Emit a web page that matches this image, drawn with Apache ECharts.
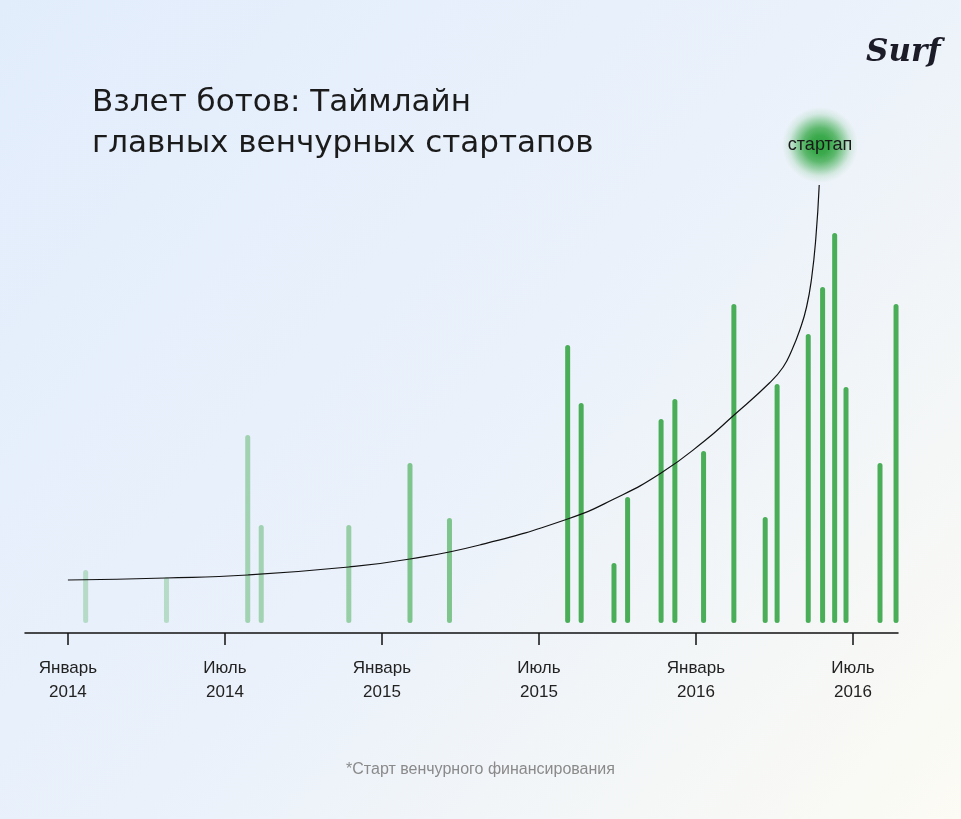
<!DOCTYPE html>
<html>
<head>
<meta charset="utf-8">
<script src="https://cdn.jsdelivr.net/npm/echarts@6/dist/echarts.min.js"></script>
<style>
  html, body { margin: 0; padding: 0; }
  #chart { width: 961px; height: 819px; }
</style>
</head>
<body>
<div id="chart"></div>
<script>
// Startup funding start dates and relative bar heights
const startDates = [
  '2014-01-22', '2014-04-24', '2014-07-28', '2014-08-13', '2014-11-23',
  '2015-02-03', '2015-03-19', '2015-08-04', '2015-08-20', '2015-09-27',
  '2015-10-13', '2015-11-21', '2015-12-07', '2016-01-10', '2016-02-14',
  '2016-03-21', '2016-04-04', '2016-05-10', '2016-05-27', '2016-06-10',
  '2016-06-23', '2016-08-02', '2016-08-21'
];
const barValues = [
  53, 46, 188, 98, 98,
  160, 105, 278, 220, 60,
  126, 204, 224, 172, 319,
  106, 239, 289, 336, 390,
  236, 160, 319
];

// Growth curve
const curveDates = [
  '2014-01-01', '2014-04-23', '2014-07-28', '2014-11-23', '2015-02-03',
  '2015-04-23', '2015-08-04', '2015-09-27', '2015-11-21', '2016-01-11',
  '2016-02-13', '2016-03-26', '2016-04-11', '2016-04-21',
  '2016-04-30', '2016-05-08', '2016-05-14', '2016-05-19', '2016-05-23'
];
const curveValues = [
  43, 45, 48, 56, 64,
  78, 104, 124, 150, 182,
  207, 240, 256, 273,
  293, 316, 345, 385, 438
];

// Axis ticks
const tickDates = ['2014-01-01', '2014-07-01', '2015-01-01', '2015-07-01', '2016-01-01', '2016-07-01'];
const tickLabels = ['Январь\n2014', 'Июль\n2014', 'Январь\n2015', 'Июль\n2015', 'Январь\n2016', 'Июль\n2016'];

const markerDate = '2016-05-24';
const markerValue = 478;
const markerLabel = 'стартап';

const titleText = 'Взлет ботов: Таймлайн\nглавных венчурных стартапов';
const footnoteText = '*Старт венчурного финансирования';

function toMonth(d) {
  const [y, m, dd] = d.split('-').map(Number);
  const dim = new Date(y, m, 0).getDate();
  return (y - 2014) * 12 + (m - 1) + (dd - 1) / dim;
}

const tickVals = tickDates.map(toMonth);
const FONT = '"Liberation Sans", Arial, sans-serif';
const TITLE_FONT = '"DejaVu Sans", "Liberation Sans", sans-serif';

const chart = echarts.init(document.getElementById('chart'), null, { renderer: 'canvas' });

chart.setOption({
  animation: false,
  backgroundColor: {
    type: 'linear', x: 0, y: 0, x2: 1, y2: 1,
    colorStops: [
      { offset: 0, color: '#e2edfc' },
      { offset: 0.5, color: '#eaf1fb' },
      { offset: 1, color: '#fcfbf4' }
    ]
  },
  textStyle: { fontFamily: FONT },
  title: [
    {
      text: titleText,
      left: 87, top: 77,
      textStyle: { fontSize: 31, lineHeight: 41, fontWeight: 400, color: '#1b1b1b', fontFamily: TITLE_FONT }
    },
    {
      text: footnoteText,
      left: 'center', top: 757,
      textStyle: { fontSize: 16, fontWeight: 400, color: '#8a8a8a', fontFamily: FONT }
    },
    {
      text: 'Surf',
      left: 861, top: 32,
      textStyle: { fontSize: 31, fontWeight: 'bold', fontStyle: 'italic', color: '#1c1c28', fontFamily: 'DejaVu Serif' }
    }
  ],
  grid: { left: 25, right: 63, top: 123, bottom: 186 },
  xAxis: {
    type: 'value',
    min: -1.64,
    max: 31.72,
    splitLine: { show: false },
    axisLine: { show: true, onZero: false, lineStyle: { color: '#111', width: 1.5 } },
    axisTick: { show: true, customValues: tickVals, length: 12, lineStyle: { color: '#111', width: 1.5 } },
    axisLabel: {
      customValues: tickVals,
      margin: 23,
      fontSize: 17,
      lineHeight: 24,
      color: '#222',
      fontFamily: FONT,
      formatter: function (v) {
        let best = 0, bd = Infinity;
        tickVals.forEach((t, i) => { const d = Math.abs(t - v); if (d < bd) { bd = d; best = i; } });
        return tickLabels[best];
      }
    }
  },
  yAxis: { type: 'value', min: -10, max: 500, show: false },
  visualMap: {
    type: 'piecewise',
    show: false,
    seriesIndex: 0,
    dimension: 0,
    pieces: [
      { lt: 6, opacity: 0.32 },
      { gte: 6, lt: 10, opacity: 0.45 },
      { gte: 10, lt: 12.5, opacity: 0.52 },
      { gte: 12.5, lt: 18, opacity: 0.68 },
      { gte: 18, opacity: 1 }
    ],
    inRange: { color: '#4aae59' }
  },
  series: [
    {
      type: 'bar',
      barWidth: 5,
      itemStyle: { color: '#4aae59', borderRadius: 2.5 },
      data: startDates.map((d, i) => [toMonth(d), barValues[i]]),
      z: 2
    },
    {
      type: 'line',
      smooth: 0.5,
      symbol: 'none',
      lineStyle: { color: '#111', width: 1.2 },
      data: curveDates.map((d, i) => [toMonth(d), curveValues[i]]),
      z: 3,
      markPoint: {
        symbol: 'circle',
        symbolSize: 76,
        silent: true,
        itemStyle: {
          color: {
            type: 'radial', x: 0.5, y: 0.5, r: 0.5,
            colorStops: [
              { offset: 0, color: 'rgba(46,164,64,1)' },
              { offset: 0.25, color: 'rgba(50,166,68,0.95)' },
              { offset: 0.45, color: 'rgba(58,170,75,0.8)' },
              { offset: 0.65, color: 'rgba(70,176,88,0.48)' },
              { offset: 0.82, color: 'rgba(85,182,100,0.16)' },
              { offset: 1, color: 'rgba(95,188,110,0)' }
            ]
          }
        },
        label: {
          show: true,
          position: 'inside',
          formatter: markerLabel,
          fontSize: 18,
          color: '#1a1a1a',
          fontFamily: FONT
        },
        data: [{ coord: [toMonth(markerDate), markerValue] }]
      }
    }
  ]
});
</script>
</body>
</html>
